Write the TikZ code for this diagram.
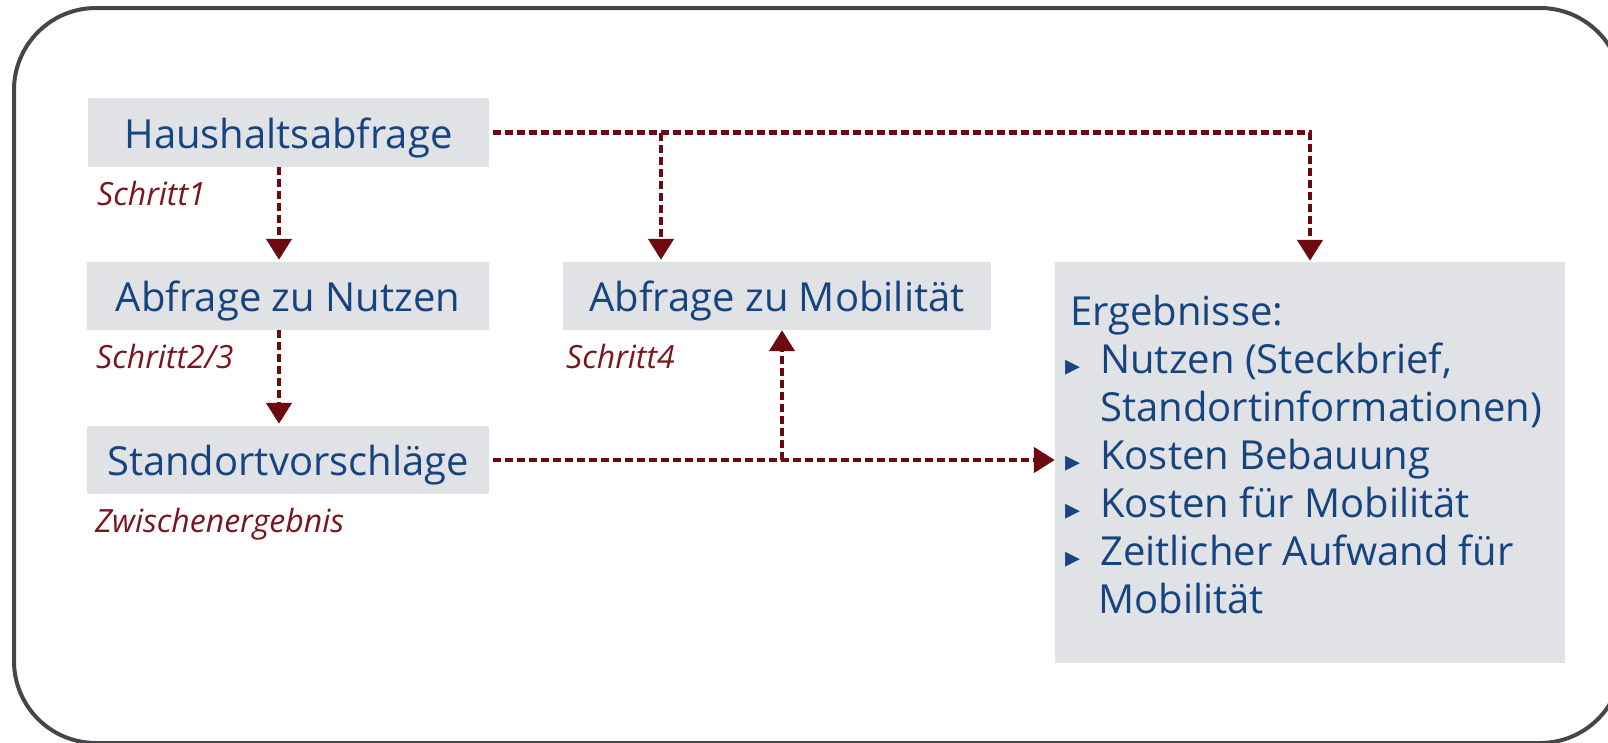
\documentclass[tikz,border=0pt]{standalone}
\usepackage{fontspec}
\setmainfont{Open Sans}
\newfontfamily\dejavu{DejaVu Sans}
\usetikzlibrary{arrows.meta}
\definecolor{txtblue}{RGB}{22,68,128}
\definecolor{lblred}{RGB}{122,22,30}
\definecolor{arrred}{RGB}{110,10,15}
\definecolor{boxgray}{RGB}{224,226,230}
\definecolor{framegray}{RGB}{70,70,72}
\tikzset{
 box/.style={fill=boxgray, draw=none, inner sep=0pt, text=txtblue, font=\fontsize{40}{48}\selectfont, text height=31pt, text depth=0pt},
 lbl/.style={text=lblred, font=\fontsize{32}{36}\selectfont\itshape, inner sep=0pt, anchor=base west},
 ergline/.style={text=txtblue, font=\fontsize{40}{48}\selectfont, inner sep=0pt, anchor=base west},
 bul/.style={text=txtblue, font=\dejavu\fontsize{30}{30}\selectfont, inner sep=0pt, anchor=base west},
 flow/.style={draw=arrred, line width=4.5pt, dash pattern=on 8pt off 4pt, -{Triangle[width=25pt,length=21pt]}},
}
\begin{document}
\begin{tikzpicture}[x=1pt,y=-1pt]
\useasboundingbox (0,0) rectangle (1608,742);
\clip (0,0) rectangle (1608,742);
\draw[framegray, line width=4pt, rounded corners=82pt] (14,8) rectangle (1622,743);

\node[box, minimum width=401pt, minimum height=69pt] (hh) at (288.5,132.5) {Haushaltsabfrage};
\node[box, minimum width=402pt, minimum height=68pt] (nutzen) at (288,296) {Abfrage zu Nutzen};
\node[box, minimum width=402pt, minimum height=68pt] (std) at (288,460) {Standortvorschläge};
\node[box, minimum width=428pt, minimum height=68pt] (mob) at (777,296) {Abfrage zu Mobilität};
\node[box, minimum width=510pt, minimum height=401pt] (erg) at (1310,462.5) {};

\node[lbl] (s1) at (97,205) {Schritt1};
\node[lbl] (s23) at (96,368) {Schritt2/3};
\node[lbl] (s4) at (566,368) {Schritt4};
\node[lbl] (zw) at (95,532) {Zwischenergebnis};

\node[ergline] (e0) at (1070,325) {Ergebnisse:};
\node[bul] (b1) at (1065,375) {▸};
\node[ergline] (e1) at (1100,373) {Nutzen (Steckbrief,};
\node[ergline] (e2) at (1100,421) {Standortinformationen)};
\node[bul] (b3) at (1065,471) {▸};
\node[ergline] (e3) at (1100,469) {Kosten Bebauung};
\node[bul] (b4) at (1065,519) {▸};
\node[ergline] (e4) at (1100,517) {Kosten für Mobilität};
\node[bul] (b5) at (1065,567) {▸};
\node[ergline] (e5) at (1100,565) {Zeitlicher Aufwand für};
\node[ergline] (e6) at (1098,613) {Mobilität};

\coordinate (cA) at (279,0);
\coordinate (cB) at (661,0);
\coordinate (cC) at (782,0);

\draw[flow, shorten >=2pt] (hh.south -| cA) -- (nutzen.north -| cA);
\draw[flow, shorten >=2pt] (nutzen.south -| cA) -- (std.north -| cA);
\draw[flow, shorten <=4pt, shorten >=1pt] (hh.east) -- (hh.east -| erg.north) -- (erg.north);
\draw[flow, shorten >=2pt] (hh.east -| cB) -- (mob.north -| cB);
\draw[flow, shorten <=4pt] (std.east) -- (erg.west |- std.east);
\draw[flow] (std.east -| cC) -- (mob.south -| cC);
\end{tikzpicture}
\end{document}
